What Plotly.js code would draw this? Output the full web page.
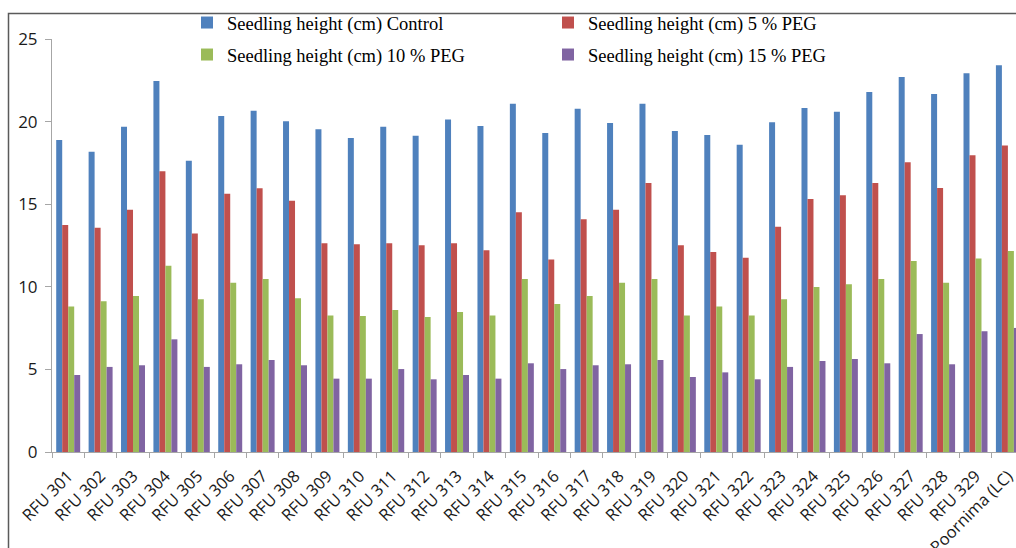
<!DOCTYPE html>
<html>
<head>
<meta charset="utf-8">
<script src="https://cdn.plot.ly/plotly-3.0.1.min.js"></script>
<style>html,body{margin:0;padding:0;background:#fff;overflow:hidden}#chart{width:1016px;height:548px}</style>
</head>
<body>
<div id="chart"></div>
<script>
const categories = ["RFU 301","RFU 302","RFU 303","RFU 304","RFU 305","RFU 306","RFU 307","RFU 308","RFU 309","RFU 310","RFU 311","RFU 312","RFU 313","RFU 314","RFU 315","RFU 316","RFU 317","RFU 318","RFU 319","RFU 320","RFU 321","RFU 322","RFU 323","RFU 324","RFU 325","RFU 326","RFU 327","RFU 328","RFU 329","Poornima (LC)"];
const control = [18.89,18.18,19.69,22.46,17.63,20.34,20.66,20.02,19.53,19.01,19.69,19.15,20.12,19.73,21.08,19.31,20.78,19.92,21.08,19.43,19.19,18.60,19.96,20.82,20.60,21.79,22.70,21.67,22.92,23.41];
const peg5 = [13.74,13.58,14.67,16.99,13.22,15.64,15.96,15.21,12.63,12.57,12.63,12.51,12.63,12.21,14.51,11.66,14.09,14.67,16.28,12.51,12.11,11.76,13.64,15.31,15.54,16.28,17.54,15.98,17.96,18.56];
const peg10 = [8.80,9.12,9.44,11.28,9.24,10.25,10.47,9.30,8.27,8.23,8.60,8.17,8.47,8.27,10.47,8.96,9.44,10.25,10.47,8.27,8.80,8.27,9.24,9.99,10.15,10.47,11.56,10.25,11.72,12.17];
const peg15 = [4.66,5.15,5.25,6.82,5.15,5.31,5.57,5.25,4.44,4.44,5.02,4.40,4.66,4.44,5.37,5.02,5.25,5.31,5.57,4.54,4.82,4.40,5.15,5.51,5.63,5.37,7.14,5.31,7.31,7.51];
const seriesNames = ["Seedling height (cm) Control","Seedling height (cm) 5 % PEG","Seedling height (cm) 10 % PEG","Seedling height (cm) 15 % PEG"];
const seriesColors = ["#4F81BD","#C0504D","#9BBB59","#8064A2"];
const seriesValues = [control, peg5, peg10, peg15];
const legendIds = ["legend","legend","legend2","legend2"];

const traces = seriesValues.map((vals, i) => ({
  type: "bar",
  x: categories,
  y: vals,
  name: seriesNames[i],
  legend: legendIds[i],
  marker: {color: seriesColors[i], line: {width: 0}}
}));

const legendCommon = {
  orientation: "h",
  xref: "paper", yref: "paper",
  xanchor: "left", yanchor: "middle",
  font: {family: "Liberation Serif, Times New Roman, serif", size: 18.5, color: "#000"},
  bgcolor: "rgba(0,0,0,0)",
  borderwidth: 0,
  entrywidth: 316,
  itemclick: false
};

const layout = {
  width: 1016, height: 548,
  margin: {l: 52, r: 0, t: 39, b: 96, pad: 0, autoexpand: false},
  paper_bgcolor: "#fff", plot_bgcolor: "#fff",
  barmode: "group",
  bargap: 0.26,
  bargroupgap: 0,
  showlegend: true,
  legend: Object.assign({}, legendCommon, {x: (187 - 52) / 964, y: (452 - 23) / 413}),
  legend2: Object.assign({}, legendCommon, {x: (187 - 52) / 964, y: (452 - 55) / 413}),
  xaxis: {
    type: "category",
    range: [-0.5, 29.25],
    tickson: "boundaries",
    ticks: "outside", ticklen: 5, tickcolor: "#a6a6a6", tickwidth: 1,
    showline: true, linecolor: "#a6a6a6", linewidth: 1,
    showgrid: false, zeroline: false,
    tickangle: -45,
    ticklabelstandoff: 7,
    tickfont: {family: "Open Sans, sans-serif", size: 16.5, color: "#1a1a1a"},
    fixedrange: true
  },
  yaxis: {
    range: [0, 25],
    dtick: 5,
    ticks: "outside", ticklen: 6, tickcolor: "#a6a6a6", tickwidth: 1,
    showline: true, linecolor: "#a6a6a6", linewidth: 1,
    showgrid: false, zeroline: false,
    ticklabelstandoff: 4,
    tickfont: {family: "Open Sans, sans-serif", size: 17, color: "#1a1a1a"},
    fixedrange: true
  },
  shapes: [{
    type: "rect", xref: "paper", yref: "paper",
    x0: (8.5 - 52) / 964, x1: 1.05,
    y0: -0.3, y1: (452 - 13.5) / 413,
    line: {color: "#5a5a5a", width: 1.5},
    fillcolor: "rgba(0,0,0,0)",
    layer: "below"
  }]
};

Plotly.newPlot("chart", traces, layout, {displayModeBar: false, staticPlot: true});
</script>
</body>
</html>
